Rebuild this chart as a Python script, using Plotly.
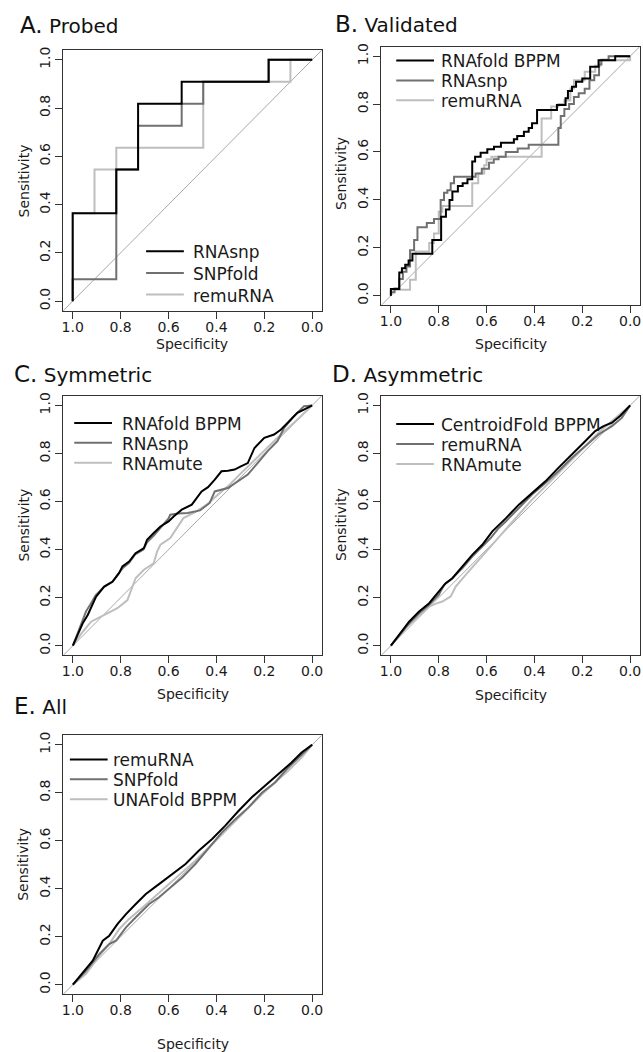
import plotly.graph_objects as go

# ---------------- data ----------------
# Panel A: Probed
A_rnasnp_spec = [1.0, 1.0, 0.818, 0.818, 0.727, 0.727, 0.545, 0.545, 0.182, 0.182, 0.0]
A_rnasnp_sens = [0.0, 0.364, 0.364, 0.545, 0.545, 0.818, 0.818, 0.909, 0.909, 1.0, 1.0]
A_snpfold_spec = [1.0, 1.0, 0.818, 0.818, 0.727, 0.727, 0.545, 0.545, 0.455, 0.455, 0.182, 0.182, 0.0]
A_snpfold_sens = [0.0, 0.091, 0.091, 0.545, 0.545, 0.727, 0.727, 0.818, 0.818, 0.909, 0.909, 1.0, 1.0]
A_remurna_spec = [1.0, 1.0, 0.909, 0.909, 0.818, 0.818, 0.455, 0.455, 0.091, 0.091, 0.0]
A_remurna_sens = [0.0, 0.364, 0.364, 0.545, 0.545, 0.636, 0.636, 0.909, 0.909, 1.0, 1.0]

# Panel B: Validated (step vertices)
B_rnafold_spec = [1.0, 0.965, 0.954, 0.94, 0.926, 0.91, 0.827, 0.79, 0.77, 0.755, 0.743, 0.72, 0.70, 0.68,
                  0.66, 0.648, 0.625, 0.597, 0.569, 0.54, 0.486, 0.472, 0.444, 0.424, 0.41, 0.389, 0.306,
                  0.27, 0.26, 0.243, 0.226, 0.20, 0.167, 0.132, 0.0625, 0.0]
B_rnafold_sens = [0.0, 0.028, 0.097, 0.115, 0.129, 0.147, 0.175, 0.233, 0.33, 0.36, 0.40, 0.435, 0.458, 0.47,
                  0.486, 0.56, 0.58, 0.597, 0.611, 0.622, 0.639, 0.653, 0.667, 0.685, 0.70, 0.72, 0.775,
                  0.796, 0.824, 0.855, 0.872, 0.893, 0.907, 0.956, 0.983, 1.0]
B_rnasnp_spec = [1.0, 0.985, 0.965, 0.95, 0.935, 0.92, 0.903, 0.889, 0.85, 0.82, 0.792, 0.778, 0.764, 0.75,
                 0.736, 0.646, 0.62, 0.59, 0.57, 0.55, 0.52, 0.47, 0.424, 0.30, 0.29, 0.275, 0.255, 0.235,
                 0.215, 0.19, 0.17, 0.15, 0.13, 0.12, 0.09, 0.0]
B_rnasnp_sens = [0.0, 0.014, 0.03, 0.07, 0.10, 0.122, 0.19, 0.233, 0.286, 0.303, 0.32, 0.40, 0.43, 0.44,
                 0.47, 0.497, 0.51, 0.53, 0.555, 0.57, 0.58, 0.60, 0.615, 0.63, 0.70, 0.75, 0.78, 0.80,
                 0.83, 0.845, 0.864, 0.90, 0.92, 0.965, 0.985, 1.0]
B_remurna_spec = [1.0, 0.92, 0.896, 0.84, 0.82, 0.80, 0.785, 0.765, 0.66, 0.635, 0.61, 0.60, 0.58, 0.55,
                  0.37, 0.33, 0.30, 0.275, 0.25, 0.235, 0.19, 0.146, 0.125, 0.11, 0.0, 0.0]
B_remurna_sens = [0.0, 0.025, 0.067, 0.185, 0.22, 0.26, 0.35, 0.375, 0.375, 0.47, 0.51, 0.545, 0.57, 0.58,
                  0.58, 0.74, 0.79, 0.80, 0.815, 0.865, 0.90, 0.935, 0.96, 0.983, 0.983, 1.0]

# Panel C: Symmetric
C_rnafold_spec = [1.0, 0.979, 0.959, 0.938, 0.917, 0.903, 0.869, 0.834, 0.807, 0.793, 0.765, 0.738, 0.703,
                  0.69, 0.662, 0.634, 0.60, 0.579, 0.545, 0.503, 0.462, 0.435, 0.407, 0.379, 0.352, 0.324,
                  0.30, 0.269, 0.241, 0.22, 0.20, 0.159, 0.13, 0.103, 0.062, 0.03, 0.007, 0.0]
C_rnafold_sens = [0.0, 0.045, 0.093, 0.128, 0.17, 0.204, 0.246, 0.267, 0.302, 0.33, 0.35, 0.385, 0.406,
                  0.441, 0.469, 0.496, 0.517, 0.538, 0.566, 0.587, 0.642, 0.66, 0.691, 0.726, 0.728, 0.733,
                  0.745, 0.76, 0.823, 0.845, 0.865, 0.879, 0.90, 0.927, 0.969, 0.985, 0.997, 1.0]
C_rnasnp_spec = [1.0, 0.98, 0.962, 0.945, 0.925, 0.905, 0.87, 0.835, 0.81, 0.79, 0.765, 0.74, 0.705, 0.69,
                 0.66, 0.634, 0.60, 0.593, 0.56, 0.52, 0.469, 0.428, 0.407, 0.352, 0.31, 0.269, 0.228,
                 0.186, 0.145, 0.117, 0.076, 0.034, 0.0]
C_rnasnp_sens = [0.0, 0.05, 0.10, 0.143, 0.175, 0.21, 0.245, 0.265, 0.30, 0.325, 0.345, 0.38, 0.40, 0.43,
                 0.46, 0.49, 0.53, 0.545, 0.55, 0.552, 0.563, 0.594, 0.642, 0.656, 0.684, 0.712, 0.76,
                 0.81, 0.851, 0.907, 0.955, 0.997, 1.0]
C_rnamute_spec = [1.0, 0.965, 0.924, 0.883, 0.848, 0.814, 0.772, 0.759, 0.738, 0.703, 0.662, 0.648, 0.634,
                  0.593, 0.566, 0.538, 0.483, 0.441, 0.393, 0.345, 0.30, 0.25, 0.20, 0.15, 0.10, 0.05, 0.0]
C_rnamute_sens = [0.0, 0.05, 0.10, 0.121, 0.14, 0.156, 0.19, 0.225, 0.281, 0.316, 0.343, 0.392, 0.42,
                  0.448, 0.49, 0.531, 0.559, 0.587, 0.629, 0.67, 0.715, 0.765, 0.812, 0.86, 0.905, 0.952, 1.0]

# Panel D: Asymmetric
D_centroid_spec = [1.0, 0.965, 0.924, 0.882, 0.84, 0.80, 0.771, 0.743, 0.701, 0.66, 0.618, 0.576, 0.52,
                   0.465, 0.41, 0.354, 0.30, 0.243, 0.188, 0.146, 0.111, 0.076, 0.042, 0.0]
D_centroid_sens = [0.0, 0.045, 0.10, 0.142, 0.177, 0.225, 0.26, 0.281, 0.33, 0.378, 0.42, 0.476, 0.53,
                   0.587, 0.635, 0.684, 0.74, 0.795, 0.851, 0.893, 0.914, 0.928, 0.956, 1.0]
D_remurna_spec = [1.0, 0.958, 0.917, 0.882, 0.84, 0.80, 0.778, 0.75, 0.701, 0.66, 0.618, 0.583, 0.549,
                  0.52, 0.465, 0.41, 0.354, 0.30, 0.243, 0.188, 0.132, 0.076, 0.035, 0.0]
D_remurna_sens = [0.0, 0.05, 0.10, 0.135, 0.17, 0.211, 0.253, 0.274, 0.323, 0.371, 0.413, 0.448, 0.49,
                  0.517, 0.573, 0.629, 0.677, 0.726, 0.782, 0.83, 0.879, 0.914, 0.948, 1.0]
D_rnamute_spec = [1.0, 0.9375, 0.882, 0.84, 0.806, 0.785, 0.75, 0.729, 0.6875, 0.632, 0.576, 0.52, 0.465,
                  0.41, 0.354, 0.30, 0.243, 0.188, 0.132, 0.076, 0.035, 0.0]
D_rnamute_sens = [0.0, 0.076, 0.125, 0.163, 0.177, 0.184, 0.205, 0.246, 0.295, 0.357, 0.42, 0.483, 0.545,
                  0.608, 0.663, 0.719, 0.775, 0.83, 0.886, 0.935, 0.97, 1.0]

# Panel E: All
E_remurna_spec = [1.0, 0.958, 0.917, 0.875, 0.848, 0.813, 0.778, 0.737, 0.695, 0.64, 0.584, 0.529, 0.474,
                  0.418, 0.363, 0.307, 0.252, 0.197, 0.141, 0.086, 0.044, 0.0]
E_remurna_sens = [0.0, 0.051, 0.10, 0.183, 0.204, 0.253, 0.294, 0.336, 0.378, 0.419, 0.461, 0.503, 0.558,
                  0.607, 0.663, 0.725, 0.781, 0.829, 0.878, 0.926, 0.968, 1.0]
E_snpfold_spec = [1.0, 0.945, 0.889, 0.848, 0.82, 0.778, 0.737, 0.681, 0.64, 0.598, 0.543, 0.488, 0.432,
                  0.377, 0.321, 0.266, 0.21, 0.155, 0.10, 0.044, 0.0]
E_snpfold_sens = [0.0, 0.058, 0.128, 0.169, 0.183, 0.239, 0.281, 0.336, 0.364, 0.399, 0.447, 0.503, 0.572,
                  0.635, 0.69, 0.739, 0.80, 0.843, 0.906, 0.961, 1.0]
E_unafold_spec = [1.0, 0.945, 0.889, 0.848, 0.806, 0.765, 0.709, 0.654, 0.598, 0.543, 0.488, 0.432, 0.377,
                  0.321, 0.266, 0.21, 0.155, 0.10, 0.044, 0.0]
E_unafold_sens = [0.0, 0.045, 0.121, 0.169, 0.232, 0.274, 0.322, 0.371, 0.419, 0.468, 0.517, 0.572, 0.628,
                  0.683, 0.739, 0.794, 0.843, 0.892, 0.947, 1.0]

tick_vals = [0.0, 0.2, 0.4, 0.6, 0.8, 1.0]
tick_text = ["0.0", "0.2", "0.4", "0.6", "0.8", "1.0"]

# ---------------- styling / layout ----------------
W, H = 643, 1052
BLACK, DARK, LIGHT = "#000000", "#707070", "#bebebe"
FONT = "DejaVu Sans"
LO, HI = -0.04, 1.04

# (letter, title, box px (x0,y0,x1,y1), series [(name,spec,sens,color)], shape,
#  legend (line x0, text x, first row y, row step), ylabel center (x,y), xlabel y, title (x, y))
panels = [
    ("A.", "Probed", (61.5, 46.3, 321.8, 308.0),
     [("RNAsnp", A_rnasnp_spec, A_rnasnp_sens, BLACK),
      ("SNPfold", A_snpfold_spec, A_snpfold_sens, DARK),
      ("remuRNA", A_remurna_spec, A_remurna_sens, LIGHT)], "linear",
     (145, 190, 248.3, 21.7), (21.7, 177.5), 341, (18, 21.5)),
    ("B.", "Validated", (381.7, 42.8, 641.7, 302.4),
     [("RNAfold BPPM", B_rnafold_spec, B_rnafold_sens, BLACK),
      ("RNAsnp", B_rnasnp_spec, B_rnasnp_sens, DARK),
      ("remuRNA", B_remurna_spec, B_remurna_sens, LIGHT)], "vh",
     (396.7, 440, 56.7, 20.0), (341.7, 170), 341, (335, 20.5)),
    ("C.", "Symmetric", (61.7, 393.3, 321.7, 653.8),
     [("RNAfold BPPM", C_rnafold_spec, C_rnafold_sens, BLACK),
      ("RNAsnp", C_rnasnp_spec, C_rnasnp_sens, DARK),
      ("RNAmute", C_rnamute_spec, C_rnamute_sens, LIGHT)], "linear",
     (72.7, 118.3, 420.5, 20.0), (21.2, 523.5), 693, (11.7, 371.3)),
    ("D.", "Asymmetric", (381.7, 393.3, 641.7, 653.8),
     [("CentroidFold BPPM", D_centroid_spec, D_centroid_sens, BLACK),
      ("remuRNA", D_remurna_spec, D_remurna_sens, DARK),
      ("RNAmute", D_rnamute_spec, D_rnamute_sens, LIGHT)], "linear",
     (396.7, 440, 421.7, 20.0), (341.2, 523), 694, (331.7, 371.3)),
    ("E.", "All", (61.7, 734.0, 321.7, 994.0),
     [("remuRNA", E_remurna_spec, E_remurna_sens, BLACK),
      ("SNPfold", E_snpfold_spec, E_snpfold_sens, DARK),
      ("UNAFold BPPM", E_unafold_spec, E_unafold_sens, LIGHT)], "linear",
     (68.3, 110, 758.3, 20.0), (21.2, 864), 1044, (11.7, 705)),
]


def px(xp):
    return xp / W


def py(yp):
    return 1 - yp / H


fig = go.Figure()
layout = dict(
    width=W, height=H, margin=dict(l=0, r=0, t=0, b=0),
    paper_bgcolor="white", plot_bgcolor="white", showlegend=False,
    font=dict(family=FONT, color="#1a1a1a"),
)
annotations = []
shapes = []

for i, (letter, title, box, series, shape, leg, ylab, xlab_y, tpos) in enumerate(panels):
    n = "" if i == 0 else str(i + 1)
    x0, y0, x1, y1 = box
    axis_common = dict(
        showgrid=False, zeroline=False, showline=True, mirror=True,
        linecolor="#333333", linewidth=1, ticks="outside", ticklen=7, tickwidth=1,
        tickcolor="#333333", tickvals=tick_vals, ticktext=tick_text,
        tickfont=dict(family=FONT, size=14, color="#1a1a1a"),
    )
    layout["xaxis" + n] = dict(axis_common, domain=[px(x0), px(x1)], range=[HI, LO],
                               anchor="y" + n, ticklabelstandoff=-4)
    layout["yaxis" + n] = dict(axis_common, domain=[py(y1), py(y0)], range=[LO, HI],
                               anchor="x" + n, tickangle=-90)
    # chance diagonal
    fig.add_trace(go.Scatter(x=[HI, LO], y=[1 - HI, 1 - LO], mode="lines",
                             line=dict(color="#a8a8a8", width=1),
                             xaxis="x" + n, yaxis="y" + n, hoverinfo="skip"))
    # curves: lightest first so black is on top
    for name, sx, sy, col in reversed(series):
        fig.add_trace(go.Scatter(x=sx, y=sy, mode="lines", name=name,
                                 line=dict(color=col, width=2, shape=shape),
                                 xaxis="x" + n, yaxis="y" + n))
    # legend (line key + text)
    lx0, tx, ry, step = leg
    for k, (name, _, _, col) in enumerate(series):
        yy = ry + k * step
        shapes.append(dict(type="line", xref="paper", yref="paper",
                           x0=px(lx0), x1=px(lx0 + 38), y0=py(yy), y1=py(yy),
                           line=dict(color=col, width=2)))
        annotations.append(dict(text=name, xref="paper", yref="paper", x=px(tx), y=py(yy + 1),
                                xanchor="left", yanchor="middle", showarrow=False,
                                font=dict(family=FONT, size=17, color="#1a1a1a")))
    # axis titles
    annotations.append(dict(text="Sensitivity", xref="paper", yref="paper",
                            x=px(ylab[0]), y=py(ylab[1]), textangle=-90,
                            xanchor="center", yanchor="middle", showarrow=False,
                            font=dict(family=FONT, size=14, color="#1a1a1a")))
    annotations.append(dict(text="Specificity", xref="paper", yref="paper",
                            x=px((x0 + x1) / 2), y=py(xlab_y), xanchor="center", yanchor="middle",
                            showarrow=False, font=dict(family=FONT, size=14, color="#1a1a1a")))
    # panel title
    annotations.append(dict(text="<span style='font-size:23px'>" + letter + "</span> " + title,
                            xref="paper", yref="paper", x=px(tpos[0] - 2), y=py(tpos[1]),
                            xanchor="left", yanchor="middle", showarrow=False,
                            font=dict(family=FONT, size=20, color="#111111")))

layout["annotations"] = annotations
layout["shapes"] = shapes
fig.update_layout(**layout)
fig.write_html("out.html", config={"displayModeBar": False},
               post_script="document.body.style.margin='0';document.body.style.padding='0';")
